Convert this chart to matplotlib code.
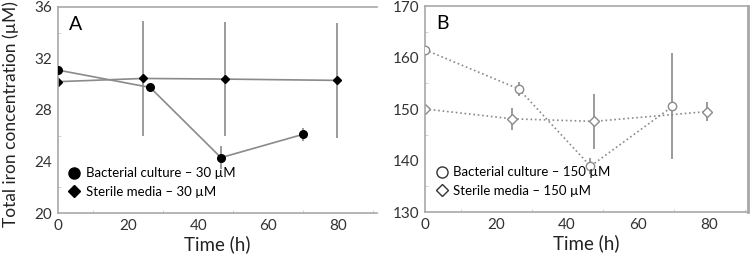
import matplotlib
matplotlib.use("Agg")
import matplotlib.pyplot as plt
from matplotlib.lines import Line2D

plt.rcParams['font.family'] = ['Lato', 'DejaVu Sans']

# panel A: 30 uM
a_bact_t = [0, 26.3, 46.5, 69.8]
a_bact_y = [31.1, 29.75, 24.3, 26.1]
a_bact_err = [0.0, 0.15, 0.9, 0.5]
a_ster_t = [0, 24.3, 47.7, 79.6]
a_ster_y = [30.2, 30.45, 30.4, 30.3]
a_ster_err = [0.0, 4.45, 4.45, 4.45]

# panel B: 150 uM
b_bact_t = [0, 26.4, 46.6, 69.7]
b_bact_y = [161.5, 153.9, 138.9, 150.5]
b_bact_err = [0.0, 1.3, 1.5, 10.3]
b_ster_t = [0, 24.5, 47.6, 79.4]
b_ster_y = [150.0, 148.1, 147.6, 149.5]
b_ster_err = [0.0, 2.1, 5.3, 1.8]

GRAY = "#8a8a8a"
SPINE = "#a8a8a8"

fig = plt.figure(figsize=(7.5, 2.57), dpi=100)
axA = fig.add_axes([0.0773, 0.1712, 0.4253, 0.8016])
axB = fig.add_axes([0.5667, 0.175, 0.4307, 0.8016])


def style(ax, ylim, yticks, right=True):
    ax.set_xlim(0, 91)
    ax.set_ylim(*ylim)
    ax.set_xticks([0, 20, 40, 60, 80])
    ax.set_yticks(yticks)
    ax.set_xticks(range(10, 91, 20), minor=True)
    step = yticks[1] - yticks[0]
    ax.set_yticks([v + step / 2 for v in yticks[:-1]], minor=True)
    ax.tick_params(which="major", length=0, labelsize=11, colors="#333333")
    ax.tick_params(axis="x", which="major", pad=4)
    ax.tick_params(axis="y", which="major", pad=4)
    ax.tick_params(which="minor", length=2, direction="in", color="#cccccc")
    for s in ax.spines.values():
        s.set_color(SPINE)
        s.set_linewidth(1.2)
    ax.spines["right"].set_visible(right)
    if right:
        ax.spines["right"].set_linewidth(2)
    ax.set_xlabel("Time (h)", fontsize=13.5, color="#222222", labelpad=2)


def legend(ax, handles, labels):
    ax.legend(handles, labels, loc="lower left", bbox_to_anchor=(0.0, 0.035),
              frameon=False, fontsize=9.5, handletextpad=0.25, labelspacing=0.5,
              handlelength=1.3, borderaxespad=0.2)


# ---- panel A
axA.errorbar(a_ster_t, a_ster_y, yerr=a_ster_err, color=GRAY, lw=1.2,
             marker="D", ms=4, mfc="black", mec="black", elinewidth=1.2, capsize=0, zorder=2)
axA.errorbar(a_bact_t, a_bact_y, yerr=a_bact_err, color=GRAY, lw=1.2,
             marker="o", ms=5.5, mfc="black", mec="black", elinewidth=1.2, capsize=0, zorder=3)
style(axA, (20, 36), [20, 24, 28, 32, 36], right=False)
axA.set_ylabel("Total iron concentration (\u00b5M)", fontsize=12.5, color="#222222")
axA.yaxis.set_label_coords(-0.122, 0.48)
axA.text(0.035, 0.955, "A", transform=axA.transAxes, fontsize=14, va="top", ha="left")
legend(axA,
       [Line2D([], [], ls="none", marker="o", ms=8, mfc="black", mec="black"),
        Line2D([], [], ls="none", marker="D", ms=6, mfc="black", mec="black")],
       ["Bacterial culture \u2013 30 \u00b5M", "Sterile media \u2013 30 \u00b5M"])

# ---- panel B
axB.errorbar(b_ster_t, b_ster_y, yerr=b_ster_err, color=GRAY, lw=1.2, ls=":",
             marker="D", ms=5, mfc="white", mec=GRAY, elinewidth=1.2, capsize=0, zorder=2)
axB.errorbar(b_bact_t, b_bact_y, yerr=b_bact_err, color=GRAY, lw=1.2, ls=":",
             marker="o", ms=6, mfc="white", mec=GRAY, elinewidth=1.2, capsize=0, zorder=3)
style(axB, (130, 170), [130, 140, 150, 160, 170], right=True)
axB.text(0.035, 0.955, "B", transform=axB.transAxes, fontsize=14, va="top", ha="left")
legend(axB,
       [Line2D([], [], ls="none", marker="o", ms=8, mfc="white", mec="#333333"),
        Line2D([], [], ls="none", marker="D", ms=6, mfc="white", mec="#333333")],
       ["Bacterial culture \u2013 150 \u00b5M", "Sterile media \u2013 150 \u00b5M"])

fig.savefig("out.png", dpi=100)
